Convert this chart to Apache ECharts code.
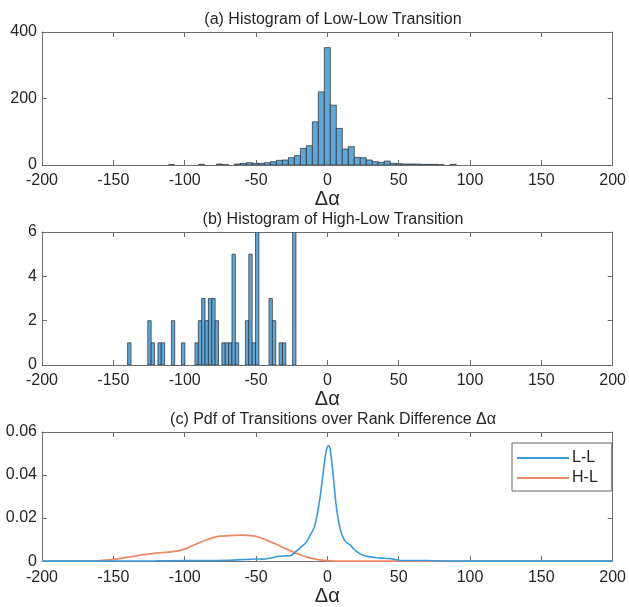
<!DOCTYPE html>
<html>
<head>
<meta charset="utf-8">
<script src="https://cdn.jsdelivr.net/npm/echarts@6/dist/echarts.min.js"></script>
<style>
  html, body { margin: 0; padding: 0; background: #fff; }
  #main { width: 629px; height: 607px; }
</style>
</head>
<body>
<div id="main"></div>
<script>
// (a) low-low histogram: bins of width 4.2 starting at -111.3
const llEdge0 = -111.3
const llBinWidth = 4.2
const llCounts = [
  1, 0, 0, 0, 0, 2, 0, 0, 3, 1,
  0, 3, 5, 7, 5, 5, 7, 10, 14, 15,
  22, 28, 50, 58, 130, 220, 353, 180, 110, 48,
  55, 23, 22, 15, 10, 8, 12, 5, 4, 3,
  3, 3, 2, 2, 2, 1, 0, 2
]

// (b) high-low histogram: bins of width 2.36 starting at -140
const hlEdge0 = -140
const hlBinWidth = 2.36
const hlCounts = [
  1, 0, 0, 0, 0, 0, 2, 1, 0, 1,
  1, 0, 0, 2, 0, 0, 1, 0, 0, 0,
  1, 2, 3, 2, 3, 3, 2, 0, 1, 1,
  1, 5, 1, 0, 0, 2, 5, 1, 6, 0,
  0, 0, 3, 2, 0, 1, 1, 0, 0, 6
]

// (c) pdf curves
const llPdfX = [-200, -160, -120, -100, -80, -70, -60, -55, -50, -45, -40, -35, -30, -26, -22, -18, -15, -12, -9, -7, -5, -3.5, -2, -1, 0, 1, 2, 3, 4.5, 6, 7.5, 9, 11, 13, 16, 18, 20, 24, 28, 33, 38, 43, 47, 50, 55, 65, 70, 78, 90, 200]
const llPdfY = [0, 0, 0.0001, 0.0002, 0.0003, 0.0004, 0.0007, 0.0008, 0.001, 0.0009, 0.0014, 0.0021, 0.0024, 0.0025, 0.0045, 0.0068, 0.0085, 0.012, 0.016, 0.022, 0.030, 0.038, 0.046, 0.0505, 0.053, 0.0537, 0.052, 0.047, 0.037, 0.027, 0.020, 0.015, 0.011, 0.009, 0.0075, 0.006, 0.0048, 0.003, 0.0022, 0.0017, 0.0014, 0.0012, 0.0008, 0.0004, 0.0003, 0.0003, 0.0003, 0.0001, 0, 0]
const hlPdfX = [-200, -165, -158, -150, -140, -130, -120, -110, -103, -97, -90, -85, -80, -75, -68, -60, -55, -50, -45, -40, -35, -30, -25, -20, -15, -10, -5, 0, 5, 200]
const hlPdfY = [0, 0, 0.0003, 0.0008, 0.0018, 0.0029, 0.0037, 0.0043, 0.005, 0.0064, 0.0085, 0.0098, 0.0109, 0.0116, 0.0119, 0.0121, 0.012, 0.0115, 0.0104, 0.009, 0.0076, 0.006, 0.0045, 0.0032, 0.002, 0.0012, 0.0006, 0.0002, 0, 0]

const FONT = 'Liberation Sans'
const TXT = '#262626'
const FRAME = '#6e6e6e'
const BAR_FILL = '#5fa7d9'

function histData(edge0, w, counts) {
  return counts.map((c, i) => [edge0 + i * w, c])
}
function pairs(xs, ys) {
  return xs.map((x, i) => [x, ys[i]])
}

function histRender(w) {
  return function (params, api) {
    let h = api.value(1)
    if (!h) return null
    let p0 = api.coord([api.value(0), h])
    let p1 = api.coord([api.value(0) + w, 0])
    return {
      type: 'rect',
      shape: { x: p0[0], y: p0[1], width: p1[0] - p0[0], height: p1[1] - p0[1] },
      style: { fill: BAR_FILL, stroke: '#2a2a2a', lineWidth: 0.7 },
    }
  }
}

function bottomAxis(gi) {
  return {
    type: 'value', gridIndex: gi, position: 'bottom',
    min: -200, max: 200, interval: 50,
    name: 'Δα', nameLocation: 'middle', nameGap: 21,
    nameTextStyle: { fontFamily: FONT, fontSize: 20, color: TXT },
    axisLine: { show: true, onZero: false, lineStyle: { color: FRAME } },
    axisTick: { inside: true, length: 5, lineStyle: { color: FRAME } },
    axisLabel: { margin: 8, fontFamily: FONT, fontSize: 16, color: TXT },
    splitLine: { show: false },
  }
}
function topAxis(gi) {
  return {
    type: 'value', gridIndex: gi, position: 'top',
    min: -200, max: 200, interval: 50,
    axisLine: { show: true, onZero: false, lineStyle: { color: FRAME } },
    axisTick: { inside: true, length: 5, lineStyle: { color: FRAME } },
    axisLabel: { show: false },
    splitLine: { show: false },
  }
}
function leftAxis(gi, max, interval) {
  return {
    type: 'value', gridIndex: gi, position: 'left',
    min: 0, max: max, interval: interval,
    axisLine: { show: true, onZero: false, lineStyle: { color: FRAME } },
    axisTick: { show: true, inside: true, length: 5, lineStyle: { color: FRAME } },
    axisLabel: { margin: 5, fontFamily: FONT, fontSize: 16, color: TXT },
    splitLine: { show: false },
  }
}
function rightAxis(gi, max, interval) {
  return {
    type: 'value', gridIndex: gi, position: 'right',
    min: 0, max: max, interval: interval,
    axisLine: { show: true, onZero: false, lineStyle: { color: FRAME } },
    axisTick: { show: true, inside: true, length: 5, lineStyle: { color: FRAME } },
    axisLabel: { show: false },
    splitLine: { show: false },
  }
}

let chart = echarts.init(document.getElementById('main'), null, { renderer: 'canvas' })

let titleStyle = { fontFamily: FONT, fontSize: 16, fontWeight: 'normal', color: TXT }
let option = {
  backgroundColor: '#fff',
  animation: false,
  title: [
    { text: '(a) Histogram of Low-Low Transition', left: 328, top: 7, textAlign: 'center', textStyle: titleStyle },
    { text: '(b) Histogram of High-Low Transition', left: 328, top: 207, textAlign: 'center', textStyle: titleStyle },
    { text: '(c) Pdf of Transitions over Rank Difference Δα', left: 328, top: 407, textAlign: 'center', textStyle: titleStyle },
  ],
  legend: {
    data: ['L-L', 'H-L'],
    orient: 'vertical',
    left: 512, top: 443,
    icon: 'rect',
    itemWidth: 52, itemHeight: 2, itemGap: 4,
    padding: [7, 14, 5, 5],
    backgroundColor: '#fff',
    borderColor: '#666', borderWidth: 1,
    textStyle: { fontFamily: FONT, fontSize: 16, color: TXT, padding: [0, 0, 0, -2] },
  },
  grid: [
    { left: 42, right: 13, top: 32, height: 133 },
    { left: 42, right: 13, top: 232, height: 133 },
    { left: 42, right: 13, top: 432, height: 134 },
  ],
  xAxis: [bottomAxis(0), bottomAxis(1), bottomAxis(2), topAxis(0), topAxis(1), topAxis(2)],
  yAxis: [
    leftAxis(0, 400, 200), leftAxis(1, 6, 2), leftAxis(2, 0.06, 0.02),
    rightAxis(0, 400, 200), rightAxis(1, 6, 2), rightAxis(2, 0.06, 0.02),
  ],
  series: [
    {
      type: 'custom', xAxisIndex: 0, yAxisIndex: 0,
      renderItem: histRender(llBinWidth),
      data: histData(llEdge0, llBinWidth, llCounts),
      clip: true,
    },
    {
      type: 'custom', xAxisIndex: 1, yAxisIndex: 1,
      renderItem: histRender(hlBinWidth),
      data: histData(hlEdge0, hlBinWidth, hlCounts),
      clip: true,
    },
    {
      name: 'L-L', type: 'line', xAxisIndex: 2, yAxisIndex: 2,
      data: pairs(llPdfX, llPdfY),
      symbol: 'none', smooth: 0.25,
      lineStyle: { color: '#3d9ad8', width: 1.6 },
      itemStyle: { color: '#3d9ad8' },
      z: 3,
    },
    {
      name: 'H-L', type: 'line', xAxisIndex: 2, yAxisIndex: 2,
      data: pairs(hlPdfX, hlPdfY),
      symbol: 'none', smooth: 0.25,
      lineStyle: { color: '#ec8a69', width: 1.8 },
      itemStyle: { color: '#ec8a69' },
      z: 2,
    },
  ],
}
chart.setOption(option)
</script>
</body>
</html>
